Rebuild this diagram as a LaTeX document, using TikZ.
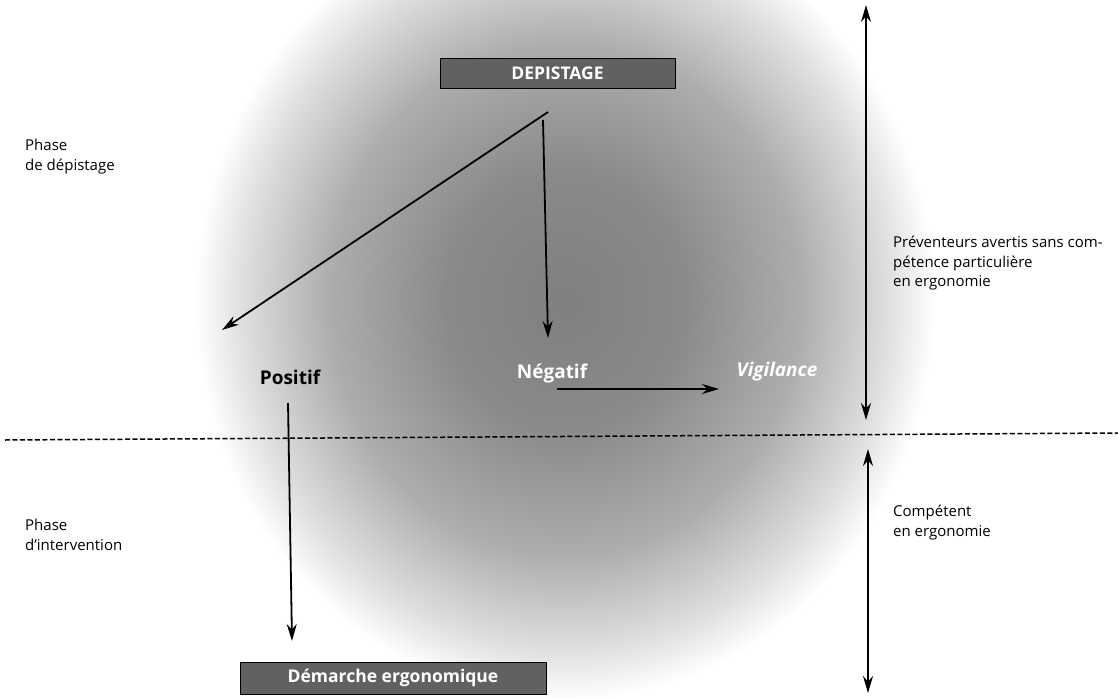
\documentclass[tikz,border=0pt]{standalone}
\usepackage{fontspec}
\setmainfont{Open Sans}
\usetikzlibrary{arrows.meta}
\pgfdeclareradialshading{blob}{\pgfpoint{0bp}{0bp}}{color(0bp)=(black!50); color(8bp)=(black!46); color(16bp)=(black!32); color(22bp)=(black!12); color(25bp)=(white); color(50bp)=(white)}
\begin{document}
\begin{tikzpicture}[x=1pt,y=-1pt,
  arr/.style={line width=1.8pt,-{Stealth[length=17pt,width=10pt]}},
  darr/.style={line width=1.8pt,{Stealth[length=17pt,width=10pt]}-{Stealth[length=17pt,width=10pt]}},
  darkbox/.style={draw=black,line width=0.6pt,fill=black!62,text=white,font=\fontsize{17.5}{20}\selectfont\bfseries,inner sep=0pt},
  side/.style={align=left,anchor=north west,inner sep=0pt,font=\fontsize{15}{19.5}\selectfont},
  big/.style={font=\fontsize{19}{22}\selectfont\bfseries,inner sep=0pt}]
\useasboundingbox (0,0) rectangle (1118,698);
\fill[white] (0,0) rectangle (1118,698);
\begin{scope}
\clip (0,0) rectangle (1118,698);
\shade[shading=blob] (565,300) ellipse [x radius=370, y radius=400];
\end{scope}
% boxes
\node[darkbox,minimum width=235pt,minimum height=30pt] (dep) at (557.5,73) {DEPISTAGE};
\node[darkbox,minimum width=306pt,minimum height=32pt] (dem) at (393,678) {Démarche ergonomique};
% labels
\node[big,text=black] (pos) at (290,377) {Positif};
\node[big,text=white] (neg) at (552,373) {Négatif};
\node[big,text=white,font=\fontsize{19}{22}\selectfont\bfseries\itshape] (vig) at (777,372) {Vigilance};
\node[side] (ph1) at (25,139) {Phase\\de dépistage};
\node[side] (ph2) at (25,519) {Phase\\d'intervention};
\node[side] (prev) at (893,236) {Préventeurs avertis sans com-\\pétence particulière\\en ergonomie};
\node[side] (comp) at (893,505) {Compétent\\en ergonomie};
% coordinates
\coordinate (d1) at (548,112);
\coordinate (p1) at (222,330);
\coordinate (d2) at (543,120);
\coordinate (n1) at (548,338);
\coordinate (n2) at (557,389);
\coordinate (v1) at (719,389);
\coordinate (p2) at (288,403);
\coordinate (p3) at (292,641);
\coordinate (u1) at (866,5);
\coordinate (u2) at (866,420);
\coordinate (l1) at (868,449);
\coordinate (l2) at (868,693);
\coordinate (h1) at (5,440);
\coordinate (h2) at (1118,433);
% arrows
\draw[arr] (d1) -- (p1);
\draw[arr] (d2) -- (n1);
\draw[arr] (n2) -- (v1);
\draw[arr] (p2) -- (p3);
\draw[darr] (u1) -- (u2);
\draw[darr] (l1) -- (l2);
\draw[line width=1.5pt,dash pattern=on 5pt off 2.5pt] (h1) -- (h2);
\end{tikzpicture}
\end{document}
